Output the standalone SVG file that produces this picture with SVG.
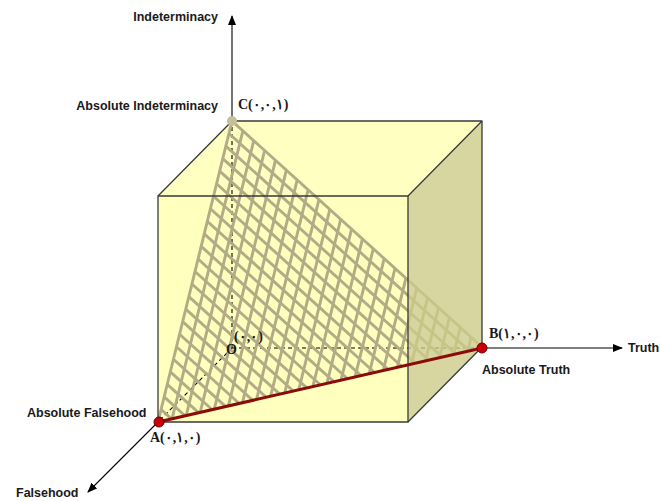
<svg xmlns="http://www.w3.org/2000/svg" width="660" height="501" viewBox="0 0 660 501">
<style>
.lbl{font-family:"Liberation Sans",Arial,sans-serif;font-weight:bold;font-size:12.5px;fill:#1a1a1a}
.co{font-family:"Liberation Serif","DejaVu Serif",serif;font-weight:bold;font-size:14px;fill:#1a1a1a}
.edge{fill:none;stroke:#3a3a3a;stroke-width:1.3;stroke-linejoin:round}
.axis{stroke:#000;stroke-width:1.1;fill:none}
.dash{stroke:#000;stroke-width:1.1;stroke-dasharray:4,3;fill:none}
.grid line{stroke:#b3ab85;stroke-width:2.9}
</style>
<defs>
<marker id="arr" markerWidth="10" markerHeight="8" refX="9" refY="4" orient="auto" markerUnits="userSpaceOnUse">
<path d="M0,0 L10,4 L0,8 Z" fill="#000"/>
</marker>
</defs>
<rect width="660" height="501" fill="#fff"/>
<g id="cube">
<polygon points="158,196 232,121 482,121 408,196" fill="#ffffc2"/>
<rect x="158" y="196" width="250" height="226" fill="#ffffbe"/>
</g>
<g id="connectors">
<line class="dash" x1="232" y1="348" x2="232" y2="121"/>
<line class="dash" x1="232" y1="348" x2="482" y2="348"/>
<line class="dash" x1="232" y1="348" x2="158" y2="422"/>
<line class="axis" x1="232" y1="121" x2="232" y2="16" marker-end="url(#arr)"/>
<line class="axis" x1="482" y1="348" x2="622" y2="348" marker-end="url(#arr)"/>
<line class="axis" x1="158" y1="422" x2="88" y2="492" marker-end="url(#arr)"/>
</g>
<g id="plane" class="grid">
<line x1="242.87" y1="130.83" x2="172.09" y2="418.74"/>
<line x1="253.74" y1="140.65" x2="186.17" y2="415.48"/>
<line x1="264.61" y1="150.48" x2="200.26" y2="412.22"/>
<line x1="275.48" y1="160.30" x2="214.35" y2="408.96"/>
<line x1="286.35" y1="170.13" x2="228.43" y2="405.70"/>
<line x1="297.22" y1="179.96" x2="242.52" y2="402.43"/>
<line x1="308.09" y1="189.78" x2="256.61" y2="399.17"/>
<line x1="318.96" y1="199.61" x2="270.70" y2="395.91"/>
<line x1="329.83" y1="209.43" x2="284.78" y2="392.65"/>
<line x1="340.70" y1="219.26" x2="298.87" y2="389.39"/>
<line x1="351.57" y1="229.09" x2="312.96" y2="386.13"/>
<line x1="362.43" y1="238.91" x2="327.04" y2="382.87"/>
<line x1="373.30" y1="248.74" x2="341.13" y2="379.61"/>
<line x1="384.17" y1="258.57" x2="355.22" y2="376.35"/>
<line x1="395.04" y1="268.39" x2="369.30" y2="373.09"/>
<line x1="405.91" y1="278.22" x2="383.39" y2="369.83"/>
<line x1="416.78" y1="288.04" x2="397.48" y2="366.57"/>
<line x1="427.65" y1="297.87" x2="411.57" y2="363.30"/>
<line x1="438.52" y1="307.70" x2="425.65" y2="360.04"/>
<line x1="449.39" y1="317.52" x2="439.74" y2="356.78"/>
<line x1="460.26" y1="327.35" x2="453.83" y2="353.52"/>
<line x1="471.13" y1="337.17" x2="467.91" y2="350.26"/>
<line x1="228.92" y1="133.54" x2="468.5" y2="350.13"/>
<line x1="225.83" y1="146.08" x2="455" y2="353.25"/>
<line x1="222.75" y1="158.63" x2="441.5" y2="356.38"/>
<line x1="219.67" y1="171.17" x2="428" y2="359.5"/>
<line x1="216.58" y1="183.71" x2="414.5" y2="362.63"/>
<line x1="213.5" y1="196.25" x2="401" y2="365.75"/>
<line x1="210.42" y1="208.79" x2="387.5" y2="368.88"/>
<line x1="207.33" y1="221.33" x2="374" y2="372"/>
<line x1="204.25" y1="233.88" x2="360.5" y2="375.13"/>
<line x1="201.17" y1="246.42" x2="347" y2="378.25"/>
<line x1="198.08" y1="258.96" x2="333.5" y2="381.38"/>
<line x1="195" y1="271.5" x2="320" y2="384.5"/>
<line x1="191.92" y1="284.04" x2="306.5" y2="387.63"/>
<line x1="188.83" y1="296.58" x2="293" y2="390.75"/>
<line x1="185.75" y1="309.13" x2="279.5" y2="393.88"/>
<line x1="182.67" y1="321.67" x2="266" y2="397"/>
<line x1="179.58" y1="334.21" x2="252.5" y2="400.13"/>
<line x1="176.5" y1="346.75" x2="239" y2="403.25"/>
<line x1="173.42" y1="359.29" x2="225.5" y2="406.38"/>
<line x1="170.33" y1="371.83" x2="212" y2="409.5"/>
<line x1="167.25" y1="384.38" x2="198.5" y2="412.63"/>
<line x1="164.17" y1="396.92" x2="185" y2="415.75"/>
<line x1="161.08" y1="409.46" x2="171.5" y2="418.88"/>
<line x1="232" y1="121" x2="158" y2="422"/>
<line x1="232" y1="121" x2="482" y2="347"/>
</g>
<g id="side-face">
<polygon points="408,196 482,121 482,347 408,422" fill="#ccca86" fill-opacity="0.78"/>
</g>
<g id="cube-edges">
<polyline class="edge" points="158,196 232,121 482,121 408,196"/>
<rect class="edge" x="158" y="196" width="250" height="226"/>
<polyline class="edge" points="482,121 482,347 408,422"/>
</g>
<g id="AB">
<line x1="158" y1="422" x2="482" y2="348" stroke="#8b0a0a" stroke-width="3"/>
</g>
<g id="node-C"><circle cx="232" cy="121" r="5" fill="#c6bf9c"/></g>
<g id="node-B"><circle cx="482" cy="348" r="5" fill="#c8000a" stroke="#6a0000" stroke-width="1"/></g>
<g id="node-A"><circle cx="159" cy="422" r="5" fill="#c8000a" stroke="#6a0000" stroke-width="1"/></g>
<g id="labels">
<text class="lbl" x="218" y="21" text-anchor="end" font-size="13">Indeterminacy</text>
<text class="lbl" x="218" y="110" text-anchor="end">Absolute Indeterminacy</text>
<text class="co" x="238" y="109">C(٠,٠,١)</text>
<text class="co" x="489" y="338">B(١,٠,٠)</text>
<text class="lbl" x="628" y="352">Truth</text>
<text class="lbl" x="482" y="374">Absolute Truth</text>
<text class="lbl" x="27" y="417">Absolute Falsehood</text>
<text class="co" x="150" y="442">A(٠,١,٠)</text>
<text class="lbl" x="16" y="497">Falsehood</text>
<text class="co" x="226" y="354" font-size="12">O</text>
<text class="co" x="234" y="341" font-size="11">(٠,٠)</text>
</g>
</svg>
